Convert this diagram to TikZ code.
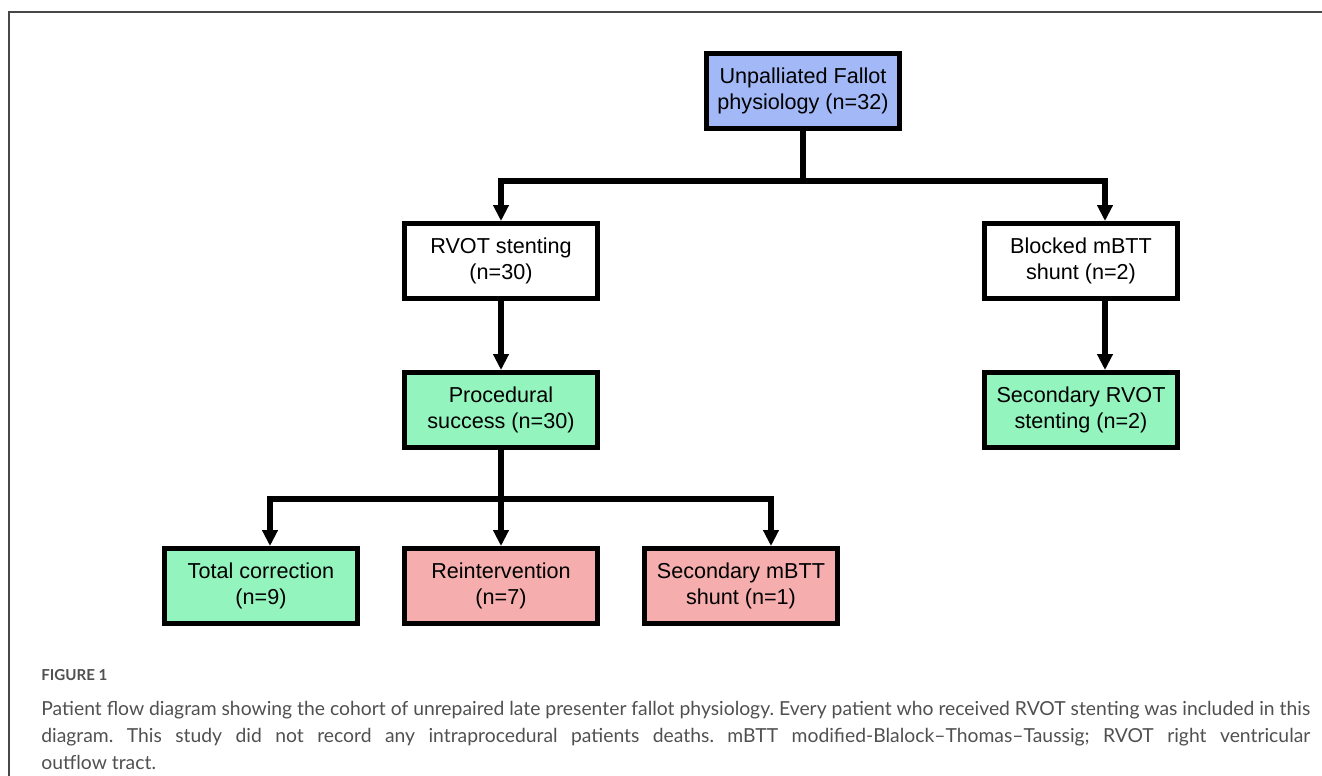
\documentclass[tikz,border=0pt]{standalone}
\usepackage{fontspec}
\setmainfont{Liberation Sans}
\newfontfamily\capfont{Lato}
\usepackage{xcolor}
\usetikzlibrary{arrows.meta,positioning}

\definecolor{rootblue}{HTML}{A3B8F6}
\definecolor{goodgreen}{HTML}{94F4BE}
\definecolor{badpink}{HTML}{F5ADAD}
\definecolor{capgray}{HTML}{505050}

\begin{document}
\frenchspacing
\begin{tikzpicture}[
  x=0.02cm,y=-0.02cm,
  box/.style={draw=black,line width=2.8pt,minimum width=3.86cm,minimum height=1.5cm,
              align=center,inner sep=2pt,font=\fontsize{12.3}{14.6}\selectfont,text=black},
  root/.style={box,fill=rootblue},
  plain/.style={box,fill=white},
  good/.style={box,fill=goodgreen},
  bad/.style={box,fill=badpink},
  link/.style={line width=3.1pt},
  flow/.style={link,-{Triangle[length=0.32cm,width=0.3cm]}},
  frame/.style={draw=black!72,line width=0.6pt}
]
\useasboundingbox (0,0) rectangle (1322,776);
\draw[frame] (1322,12) -- (9,12) -- (9,776);

\node[root] (unpall) at (803,91) {Unpalliated Fallot\\physiology (n=32)};
\node[plain] (rvot) at (501,261) {RVOT stenting\\(n=30)};
\node[plain] (blocked) at (1081,261) {Blocked mBTT\\shunt (n=2)};
\node[good] (success) at (501,410) {Procedural\\success (n=30)};
\node[good] (secrvot) at (1081,410) {Secondary RVOT\\stenting (n=2)};
\node[good] (total) at (261,586) {Total correction\\(n=9)};
\node[bad] (reint) at (501,586) {Reintervention\\(n=7)};
\node[bad] (secmbtt) at (741,586) {Secondary mBTT\\shunt (n=1)};

% split points
\coordinate (split1) at (803,181);
\coordinate (split2) at (501,499);

\draw[link] (unpall.south) -- (split1);
\draw[flow] (split1) -| (rvot.north);
\draw[flow] (split1) -| ([xshift=0.48cm]blocked.north);
\draw[flow] (rvot.south) -- (success.north);
\draw[flow] ([xshift=0.48cm]blocked.south) -- ([xshift=0.48cm]secrvot.north);

\draw[link] (success.south) -- (split2);
\draw[flow] (split2) -| ([xshift=0.18cm]total.north);
\draw[flow] (split2) -- (reint.north);
\draw[flow] (split2) -| ([xshift=0.6cm]secmbtt.north);

\node[anchor=west,inner sep=0pt,text=capgray,font=\capfont\bfseries\fontsize{8.6}{10}\selectfont] (fig) at (41,675) {FIGURE 1};
\node[anchor=north west,inner sep=0pt,text width=25.38cm,align=justify,text=capgray,
      font=\capfont\fontsize{11}{15.4}\selectfont] (caption) at (41,701)
  {Patient flow diagram showing the cohort of unrepaired late presenter fallot physiology. Every patient who received RVOT stenting was included in this\linebreak
   diagram. This study did not record any intraprocedural patients deaths. mBTT modified-Blalock–Thomas–Taussig; RVOT right ventricular\linebreak
   outflow tract.};
\end{tikzpicture}
\end{document}
